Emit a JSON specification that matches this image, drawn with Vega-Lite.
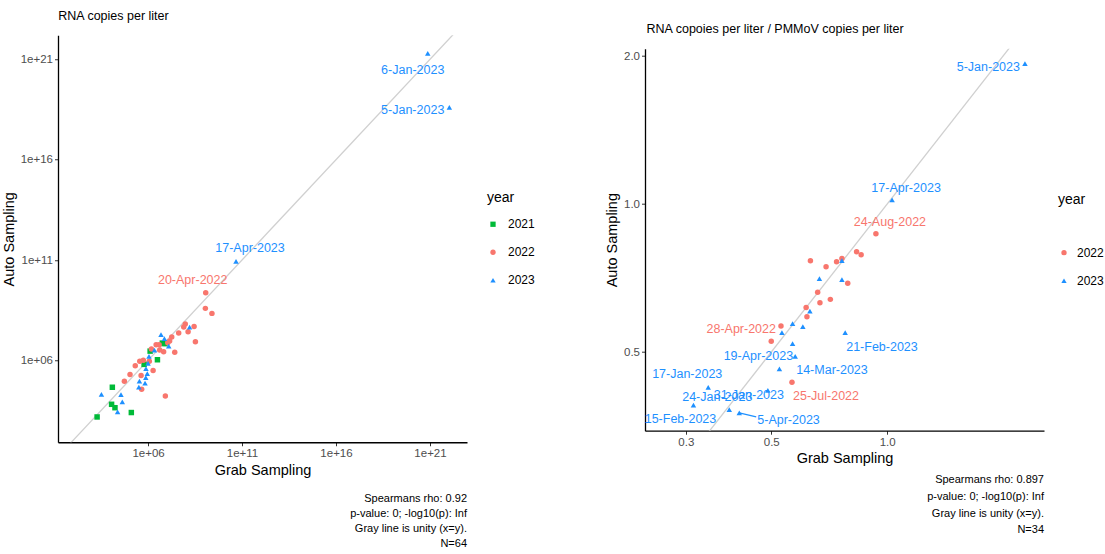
{
  "$schema": "https://vega.github.io/schema/vega-lite/v6.json",
  "padding": {"left": 1, "top": 9, "right": 2, "bottom": 2},
  "config": {
    "font": "Liberation Sans",
    "view": {"stroke": null},
    "axis": {"grid": false, "domainColor": "#000", "domainWidth": 1.3, "tickColor": "#333", "tickSize": 3.5, "labelColor": "#4D4D4D", "labelFontSize": 11.5, "labelPadding": 2, "titleFontSize": 14.5, "titleFontWeight": "normal", "titleColor": "#000", "titlePadding": 4},
    "legend": {"titleFontSize": 14, "titleFontWeight": "normal", "titleColor": "#000", "labelFontSize": 12, "labelColor": "#000", "symbolSize": 28, "rowPadding": 16, "titlePadding": 13, "offset": 20, "labelOffset": 9, "layout": {"right": {"anchor": "middle"}}},
    "title": {"fontSize": 12.5, "fontWeight": "normal", "color": "#000"}
  },
  "resolve": {"scale": {"color": "independent", "shape": "independent"}, "legend": {"color": "independent", "shape": "independent"}},
  "center": true,
  "spacing": 69,
  "hconcat": [
    {
      "title": {"text": "RNA copies per liter", "anchor": "start", "dx": 57, "offset": 13},
      "resolve": {"scale": {"color": "independent", "shape": "independent"}, "legend": {"color": "independent", "shape": "independent"}},
      "vconcat": [
        {
          "width": 409,
          "height": 407,
          "title": {"text": ["Spearmans rho: 0.92", "p-value: 0; -log10(p): Inf", "Gray line is unity (x=y).", "N=64"], "orient": "bottom", "anchor": "end", "align": "right", "fontSize": 11, "lineHeight": 15, "offset": 16, "frame": "group"},
          "data": {"values": [
            {"grab": 1.26e4, "auto": 4.57e4, "year": "2021"},
            {"grab": 1.95e3, "auto": 1.51e3, "year": "2021"},
            {"grab": 1.15e4, "auto": 6.46e3, "year": "2021"},
            {"grab": 1.74e4, "auto": 4.37e3, "year": "2021"},
            {"grab": 1.29e5, "auto": 2.51e3, "year": "2021"},
            {"grab": 6.17e5, "auto": 6.31e5, "year": "2021"},
            {"grab": 3.16e6, "auto": 1.07e6, "year": "2021"},
            {"grab": 1.29e6, "auto": 2.88e6, "year": "2021"},
            {"grab": 5.75e6, "auto": 7.24e6, "year": "2021"},
            {"grab": 7.94e6, "auto": 6.76e6, "year": "2021"},
            {"grab": 1.17e9, "auto": 2.34e9, "year": "2022", "label": "20-Apr-2022"},
            {"grab": 1.12e9, "auto": 3.89e8, "year": "2022"},
            {"grab": 2.51e9, "auto": 2.19e8, "year": "2022"},
            {"grab": 2.82e8, "auto": 4.9e7, "year": "2022"},
            {"grab": 9.55e7, "auto": 6.46e7, "year": "2022"},
            {"grab": 7.94e7, "auto": 4.57e7, "year": "2022"},
            {"grab": 1.35e8, "auto": 2.69e7, "year": "2022"},
            {"grab": 3.31e8, "auto": 8.51e6, "year": "2022"},
            {"grab": 4.27e7, "auto": 2.29e7, "year": "2022"},
            {"grab": 1.82e7, "auto": 1.45e7, "year": "2022"},
            {"grab": 1.41e7, "auto": 9.12e6, "year": "2022"},
            {"grab": 2.63e7, "auto": 2.51e6, "year": "2022"},
            {"grab": 6.76e6, "auto": 2.69e6, "year": "2022"},
            {"grab": 3.89e6, "auto": 6.03e6, "year": "2022"},
            {"grab": 2.69e6, "auto": 6.03e6, "year": "2022"},
            {"grab": 1.51e6, "auto": 3.63e6, "year": "2022"},
            {"grab": 1.17e6, "auto": 8.91e5, "year": "2022"},
            {"grab": 5.62e5, "auto": 1.0e6, "year": "2022"},
            {"grab": 3.63e5, "auto": 8.91e5, "year": "2022"},
            {"grab": 2.09e5, "auto": 5.37e5, "year": "2022"},
            {"grab": 1.1e5, "auto": 1.95e5, "year": "2022"},
            {"grab": 5.5e4, "auto": 9.12e4, "year": "2022"},
            {"grab": 4.27e5, "auto": 1.78e5, "year": "2022"},
            {"grab": 1.86e6, "auto": 3.09e5, "year": "2022"},
            {"grab": 4.57e5, "auto": 3.63e4, "year": "2022"},
            {"grab": 8.32e6, "auto": 1.66e4, "year": "2022"},
            {"grab": 4.17e6, "auto": 3.31e6, "year": "2022"},
            {"grab": 1.12e7, "auto": 7.59e6, "year": "2022"},
            {"grab": 7.59e20, "auto": 2.0e21, "year": "2023", "label": "6-Jan-2023"},
            {"grab": 1.07e22, "auto": 3.98e18, "year": "2023", "label": "5-Jan-2023"},
            {"grab": 4.79e10, "auto": 8.51e10, "year": "2023", "label": "17-Apr-2023"},
            {"grab": 4.9e6, "auto": 1.91e7, "year": "2023"},
            {"grab": 7.41e6, "auto": 1.2e7, "year": "2023"},
            {"grab": 1.26e7, "auto": 5.13e6, "year": "2023"},
            {"grab": 1.62e8, "auto": 4.57e7, "year": "2023"},
            {"grab": 2.19e6, "auto": 3.24e6, "year": "2023"},
            {"grab": 1.0e6, "auto": 7.08e5, "year": "2023"},
            {"grab": 7.76e5, "auto": 3.89e5, "year": "2023"},
            {"grab": 9.12e5, "auto": 2.19e5, "year": "2023"},
            {"grab": 7.59e5, "auto": 1.38e5, "year": "2023"},
            {"grab": 6.92e5, "auto": 7.41e4, "year": "2023"},
            {"grab": 3.47e5, "auto": 9.33e4, "year": "2023"},
            {"grab": 3.24e5, "auto": 4.68e4, "year": "2023"},
            {"grab": 3.31e3, "auto": 2.04e4, "year": "2023"},
            {"grab": 3.63e4, "auto": 1.95e4, "year": "2023"},
            {"grab": 4.27e4, "auto": 8.51e3, "year": "2023"},
            {"grab": 2.4e4, "auto": 2.69e3, "year": "2023"},
            {"grab": 1.12e6, "auto": 1.58e6, "year": "2023"}
          ]},
          "encoding": {
            "x": {"field": "grab", "type": "quantitative", "title": "Grab Sampling", "scale": {"type": "log", "domain": [16.2, 9.3e22], "nice": false, "zero": false}, "axis": {"values": [1e6, 1e11, 1e16, 1e21], "labelExpr": "datum.value < 1e10 ? '1e+06' : format(datum.value, '.0e')"}},
            "y": {"field": "auto", "type": "quantitative", "title": "Auto Sampling", "scale": {"type": "log", "domain": [83, 1.58e22], "nice": false, "zero": false}, "axis": {"values": [1e6, 1e11, 1e16, 1e21], "labelExpr": "datum.value < 1e10 ? '1e+06' : format(datum.value, '.0e')"}}
          },
          "layer": [
            {
              "data": {"values": [{"grab": 10, "auto": 10}, {"grab": 1e23, "auto": 1e23}]},
              "mark": {"type": "line", "color": "#D0D0D0", "strokeWidth": 1.3, "clip": true},
              "encoding": {}
            },
            {
              "mark": {"type": "point", "filled": true, "size": 30, "opacity": 1},
              "encoding": {
                "color": {"field": "year", "type": "nominal", "scale": {"domain": ["2021", "2022", "2023"], "range": ["#00BA38", "#F8766D", "#1E90FF"]}, "legend": {"title": "year"}},
                "shape": {"field": "year", "type": "nominal", "scale": {"domain": ["2021", "2022", "2023"], "range": ["square", "circle", "triangle-up"]}, "legend": {"title": "year"}}
              }
            },
            {
              "transform": [{"filter": {"field": "label", "oneOf": ["6-Jan-2023"]}}],
              "mark": {"type": "text", "fontSize": 12.5, "align": "center", "dx": -15, "dy": 17},
              "encoding": {"text": {"field": "label"}, "color": {"field": "year", "type": "nominal"}}
            },
            {
              "transform": [{"filter": {"field": "label", "oneOf": ["5-Jan-2023"]}}],
              "mark": {"type": "text", "fontSize": 12.5, "align": "right", "dx": -5, "dy": 3},
              "encoding": {"text": {"field": "label"}, "color": {"field": "year", "type": "nominal"}}
            },
            {
              "transform": [{"filter": {"field": "label", "oneOf": ["17-Apr-2023"]}}],
              "mark": {"type": "text", "fontSize": 12.5, "align": "center", "dx": 14, "dy": -13},
              "encoding": {"text": {"field": "label"}, "color": {"field": "year", "type": "nominal"}}
            },
            {
              "transform": [{"filter": {"field": "label", "oneOf": ["20-Apr-2022"]}}],
              "mark": {"type": "text", "fontSize": 12.5, "align": "center", "dx": -13, "dy": -13},
              "encoding": {"text": {"field": "label"}, "color": {"field": "year", "type": "nominal"}}
            }
          ]
        }
      ]
    },
    {
      "title": {"text": "RNA copoies per liter / PMMoV copies per liter", "anchor": "start", "dx": 42, "offset": 13},
      "resolve": {"scale": {"color": "independent", "shape": "independent"}, "legend": {"color": "independent", "shape": "independent"}},
      "vconcat": [
        {
          "width": 399,
          "height": 382,
          "title": {"text": ["Spearmans rho: 0.897", "p-value: 0; -log10(p): Inf", "Gray line is unity (x=y).", "N=34"], "orient": "bottom", "anchor": "end", "align": "right", "fontSize": 11, "lineHeight": 16.7, "offset": 9, "frame": "group"},
          "data": {"values": [
            {"grab": 0.935, "auto": 0.87, "year": "2022", "label": "24-Aug-2022"},
            {"grab": 0.833, "auto": 0.80, "year": "2022"},
            {"grab": 0.856, "auto": 0.789, "year": "2022"},
            {"grab": 0.632, "auto": 0.767, "year": "2022"},
            {"grab": 0.694, "auto": 0.746, "year": "2022"},
            {"grab": 0.739, "auto": 0.763, "year": "2022"},
            {"grab": 0.763, "auto": 0.775, "year": "2022"},
            {"grab": 0.79, "auto": 0.69, "year": "2022"},
            {"grab": 0.66, "auto": 0.662, "year": "2022"},
            {"grab": 0.712, "auto": 0.64, "year": "2022"},
            {"grab": 0.669, "auto": 0.63, "year": "2022"},
            {"grab": 0.616, "auto": 0.616, "year": "2022"},
            {"grab": 0.619, "auto": 0.59, "year": "2022"},
            {"grab": 0.53, "auto": 0.565, "year": "2022", "label": "28-Apr-2022"},
            {"grab": 0.5, "auto": 0.526, "year": "2022"},
            {"grab": 0.566, "auto": 0.434, "year": "2022", "label": "25-Jul-2022"},
            {"grab": 2.28, "auto": 1.93, "year": "2023", "label": "5-Jan-2023"},
            {"grab": 1.03, "auto": 1.02, "year": "2023", "label": "17-Apr-2023"},
            {"grab": 0.763, "auto": 0.767, "year": "2023"},
            {"grab": 0.667, "auto": 0.705, "year": "2023"},
            {"grab": 0.763, "auto": 0.702, "year": "2023"},
            {"grab": 0.63, "auto": 0.606, "year": "2023"},
            {"grab": 0.604, "auto": 0.563, "year": "2023"},
            {"grab": 0.568, "auto": 0.571, "year": "2023"},
            {"grab": 0.533, "auto": 0.548, "year": "2023"},
            {"grab": 0.568, "auto": 0.52, "year": "2023"},
            {"grab": 0.577, "auto": 0.49, "year": "2023", "label": "14-Mar-2023"},
            {"grab": 0.525, "auto": 0.462, "year": "2023", "label": "19-Apr-2023"},
            {"grab": 0.778, "auto": 0.548, "year": "2023", "label": "21-Feb-2023"},
            {"grab": 0.49, "auto": 0.418, "year": "2023", "label": "31-Jan-2023"},
            {"grab": 0.343, "auto": 0.424, "year": "2023", "label": "17-Jan-2023"},
            {"grab": 0.314, "auto": 0.39, "year": "2023", "label": "15-Feb-2023"},
            {"grab": 0.389, "auto": 0.382, "year": "2023", "label": "24-Jan-2023"},
            {"grab": 0.413, "auto": 0.376, "year": "2023", "label": "5-Apr-2023"}
          ]},
          "encoding": {
            "x": {"field": "grab", "type": "quantitative", "title": "Grab Sampling", "scale": {"type": "log", "domain": [0.235, 2.555], "nice": false, "zero": false}, "axis": {"values": [0.3, 0.5, 1.0], "format": ".1f"}},
            "y": {"field": "auto", "type": "quantitative", "title": "Auto Sampling", "scale": {"type": "log", "domain": [0.346, 2.07], "nice": false, "zero": false}, "axis": {"values": [0.5, 1.0, 2.0], "format": ".1f"}}
          },
          "layer": [
            {
              "data": {"values": [{"grab": 0.2, "auto": 0.2}, {"grab": 3, "auto": 3}]},
              "mark": {"type": "line", "color": "#D0D0D0", "strokeWidth": 1.3, "clip": true},
              "encoding": {}
            },
            {
              "transform": [{"filter": {"field": "label", "oneOf": ["5-Apr-2023"]}}],
              "mark": {"type": "rule", "color": "#1E90FF", "strokeWidth": 1.2},
              "encoding": {"x2": {"datum": 0.457}, "y2": {"datum": 0.369}}
            },
            {
              "mark": {"type": "point", "filled": true, "size": 30, "opacity": 1},
              "encoding": {
                "color": {"field": "year", "type": "nominal", "scale": {"domain": ["2022", "2023"], "range": ["#F8766D", "#1E90FF"]}, "legend": {"title": "year", "titlePadding": 40, "offset": 14, "labelOffset": 7}},
                "shape": {"field": "year", "type": "nominal", "scale": {"domain": ["2022", "2023"], "range": ["circle", "triangle-up"]}, "legend": {"title": "year", "titlePadding": 40, "offset": 14, "labelOffset": 7}}
              }
            },
            {
              "transform": [{"filter": {"field": "label", "oneOf": ["17-Apr-2023", "24-Aug-2022"]}}],
              "mark": {"type": "text", "fontSize": 12.5, "align": "center", "dx": 14, "dy": -12},
              "encoding": {"text": {"field": "label"}, "color": {"field": "year", "type": "nominal"}}
            },
            {
              "transform": [{"filter": {"field": "label", "oneOf": ["5-Jan-2023", "28-Apr-2022"]}}],
              "mark": {"type": "text", "fontSize": 12.5, "align": "right", "dx": -5, "dy": 3},
              "encoding": {"text": {"field": "label"}, "color": {"field": "year", "type": "nominal"}}
            },
            {
              "transform": [{"filter": {"field": "label", "oneOf": ["19-Apr-2023", "17-Jan-2023"]}}],
              "mark": {"type": "text", "fontSize": 12.5, "align": "center", "dx": -21, "dy": -13},
              "encoding": {"text": {"field": "label"}, "color": {"field": "year", "type": "nominal"}}
            },
            {
              "transform": [{"filter": {"field": "label", "oneOf": ["14-Mar-2023", "25-Jul-2022", "21-Feb-2023"]}}],
              "mark": {"type": "text", "fontSize": 12.5, "align": "left", "dx": 1, "dy": 14},
              "encoding": {"text": {"field": "label"}, "color": {"field": "year", "type": "nominal"}}
            },
            {
              "transform": [{"filter": {"field": "label", "oneOf": ["24-Jan-2023"]}}],
              "mark": {"type": "text", "fontSize": 12.5, "align": "center", "dx": -12, "dy": -13},
              "encoding": {"text": {"field": "label"}, "color": {"field": "year", "type": "nominal"}}
            },
            {
              "transform": [{"filter": {"field": "label", "oneOf": ["31-Jan-2023"]}}],
              "mark": {"type": "text", "fontSize": 12.5, "align": "center", "dx": -19, "dy": 5},
              "encoding": {"text": {"field": "label"}, "color": {"field": "year", "type": "nominal"}}
            },
            {
              "transform": [{"filter": {"field": "label", "oneOf": ["15-Feb-2023"]}}],
              "mark": {"type": "text", "fontSize": 12.5, "align": "center", "dx": -13, "dy": 14},
              "encoding": {"text": {"field": "label"}, "color": {"field": "year", "type": "nominal"}}
            },
            {
              "transform": [{"filter": {"field": "label", "oneOf": ["5-Apr-2023"]}}],
              "mark": {"type": "text", "fontSize": 12.5, "align": "left", "dx": 18, "dy": 7},
              "encoding": {"text": {"field": "label"}, "color": {"field": "year", "type": "nominal"}}
            }
          ]
        }
      ]
    }
  ]
}
